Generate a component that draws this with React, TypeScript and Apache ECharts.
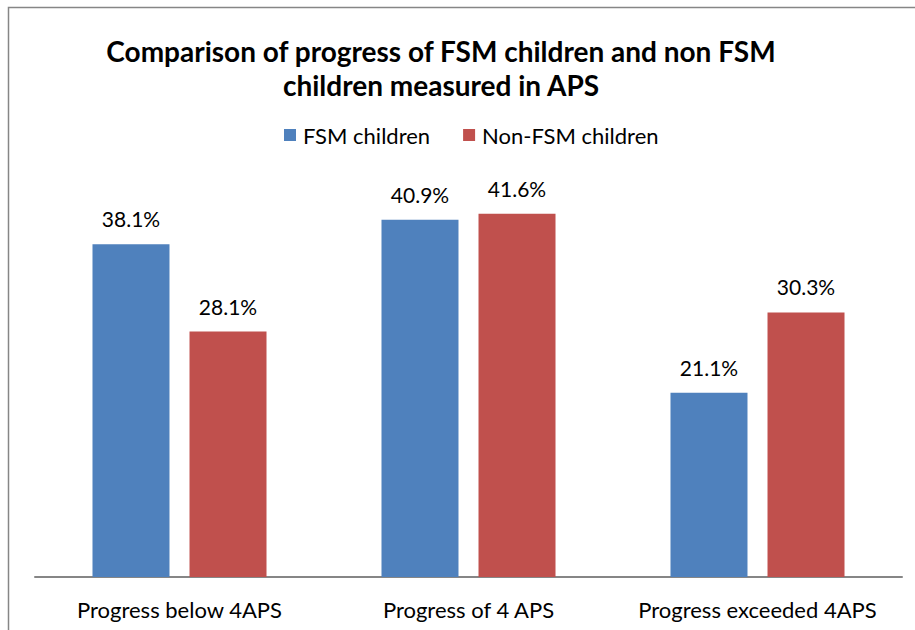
import React, { useEffect, useRef } from "react";
import * as echarts from "echarts";

const categories = ["Progress below 4APS", "Progress of 4 APS", "Progress exceeded 4APS"];
const fsmValues = [38.1, 40.9, 21.1];
const nonFsmValues = [28.1, 41.6, 30.3];
const seriesNames = ["FSM children", "Non-FSM children"];
const titleLines = ["Comparison of progress of FSM children and non FSM", "children measured in APS"];

const FONT = "Lato";

export default function App() {
  const ref = useRef<HTMLDivElement>(null);
  useEffect(() => {
    if (!ref.current) return;
    const chart = echarts.init(ref.current, null, { renderer: "svg" });
    const labelStyle = {
      show: true,
      position: "top" as const,
      distance: 15,
      formatter: (p: any) => p.value.toFixed(1) + "%",
      fontFamily: FONT,
      fontSize: 21,
      color: "#000",
    };
    chart.setOption({
      animation: false,
      backgroundColor: "#fff",
      title: {
        text: titleLines.join("\n"),
        left: 441,
        textAlign: "center",
        top: 34,
        padding: 0,
        textStyle: {
          fontFamily: FONT,
          fontWeight: "bold",
          fontSize: 28,
          lineHeight: 34,
          color: "#000",
        },
      },
      legend: {
        data: seriesNames,
        left: 284,
        top: 124,
        padding: 0,
        itemWidth: 12,
        itemHeight: 12,
        itemGap: 33,
        icon: "rect",
        textStyle: { fontFamily: FONT, fontSize: 22, color: "#000", padding: [0, 0, 0, 2] },
      },
      grid: { left: 35, right: 13, top: 184, bottom: 53, containLabel: false },
      xAxis: {
        type: "category",
        data: categories,
        axisLine: { show: true, lineStyle: { color: "#868686", width: 2 } },
        axisTick: { show: false },
        axisLabel: { fontFamily: FONT, fontSize: 22, color: "#000", margin: 21, interval: 0, hideOverlap: false },
      },
      yAxis: {
        type: "value",
        min: 0,
        max: 45,
        show: false,
        splitLine: { show: false },
      },
      series: [
        {
          name: seriesNames[0],
          type: "bar",
          data: fsmValues,
          barWidth: 77,
          barGap: "26%",
          itemStyle: { color: "#4F81BD" },
          label: labelStyle,
        },
        {
          name: seriesNames[1],
          type: "bar",
          data: nonFsmValues,
          barWidth: 77,
          itemStyle: { color: "#C0504D" },
          label: labelStyle,
        },
      ],
      graphic: [
        {
          type: "polyline",
          shape: { points: [[8.5, 640], [8.5, 7.5], [920, 7.5]] },
          style: { stroke: "#868686", lineWidth: 1.5, fill: null },
          silent: true,
        },
      ],
    });
    return () => chart.dispose();
  }, []);
  return <div ref={ref} style={{ width: 915, height: 630, position: "absolute", left: 0, top: 0 }} />;
}
